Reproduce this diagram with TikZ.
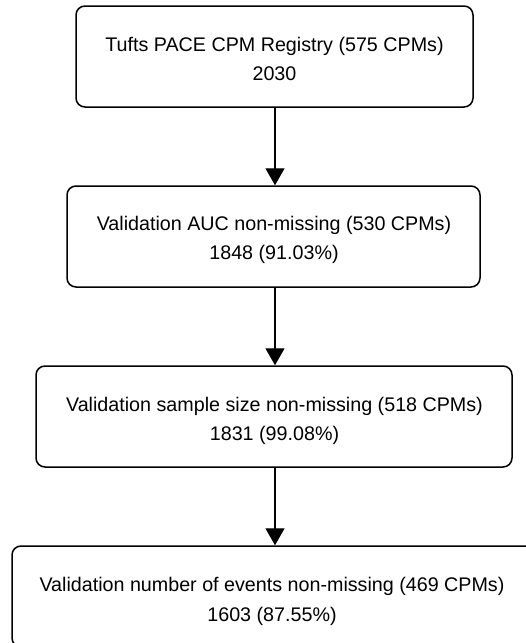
\documentclass[tikz,border=0pt]{standalone}
\usepackage{fontspec}
\setmainfont{Liberation Sans}
\usetikzlibrary{arrows.meta}
\begin{document}
\begin{tikzpicture}[x=1pt,y=-1pt,
  box/.style={draw=black, line width=1.5pt, rounded corners=9pt, inner sep=0pt,
    minimum height=101pt},
  txt/.style={anchor=base, inner sep=0pt, font=\fontsize{19.7}{24}\selectfont},
  arr/.style={line width=1.4pt, -{Triangle[width=19pt,length=17pt]}}]
\useasboundingbox (0,0) rectangle (526,643);
\clip (0,0) rectangle (526,643);
\node[box, minimum width=397pt] (b1) at (274.5,56.5) {};
\node[txt] (b1a) at (274.5,51) {Tufts PACE CPM Registry (575 CPMs)};
\node[txt] (b1b) at (274.5,80) {2030};
\node[box, minimum width=413pt] (b2) at (273.5,236.5) {};
\node[txt] (b2a) at (274,230.5) {Validation AUC non-missing (530 CPMs)};
\node[txt] (b2b) at (274,259) {1848 (91.03\%)};
\node[box, minimum width=476pt] (b3) at (274,416.5) {};
\node[txt] (b3a) at (274.5,411) {Validation sample size non-missing (518 CPMs)};
\node[txt] (b3b) at (274.5,440) {1831 (99.08\%)};
\node[box, minimum width=525pt] (b4) at (274.5,596.5) {};
\node[txt] (b4a) at (272,591.5) {Validation number of events non-missing (469 CPMs)};
\node[txt] (b4b) at (272,621) {1603 (87.55\%)};
\draw[arr] (b1.south -| 275,0) -- (b2.north -| 275,0);
\draw[arr] (b2.south -| 275,0) -- (b3.north -| 275,0);
\draw[arr] (b3.south -| 275,0) -- (b4.north -| 275,0);
\end{tikzpicture}
\end{document}
